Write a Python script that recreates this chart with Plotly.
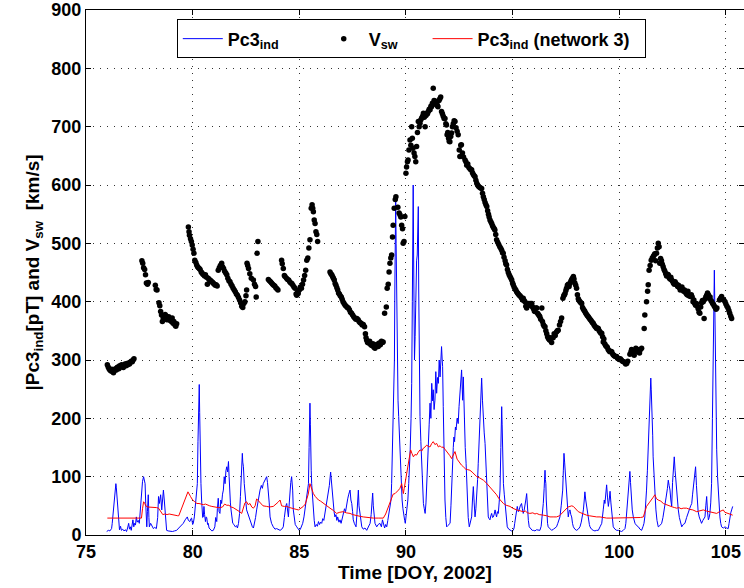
import plotly.graph_objects as go

# ---------------- data ----------------
vsw_points = [
(76.00,292),(76.04,288),(76.08,285),(76.12,283),(76.17,281),(76.21,284),(76.25,280),(76.29,278),(76.33,282),(76.38,285),
(76.42,283),(76.46,287),(76.50,288),(76.54,285),(76.58,290),(76.62,288),(76.67,292),(76.71,290),(76.75,287),(76.79,291),
(76.83,293),(76.88,290),(76.92,294),(76.96,292),(77.00,295),(77.04,293),(77.08,296),(77.12,298),(77.17,297),(77.21,300),(77.25,302),
(77.62,470),(77.66,466),(77.70,458),(77.75,455),(77.79,446),(77.83,432),(77.88,430),(77.92,433),
(78.25,428),(78.29,421),(78.33,420),(78.42,398),(78.46,393),(78.50,383),(78.54,377),(78.58,366),(78.62,372),(78.67,374),
(78.71,378),(78.75,376),(78.79,369),(78.83,372),(78.88,374),(78.92,368),(78.96,370),(79.00,366),(79.04,372),(79.08,363),
(79.12,366),(79.17,360),(79.21,358),(79.25,362),
(79.80,528),(79.83,520),(79.85,514),(79.90,508),(79.94,503),(79.98,497),(80.02,490),(80.06,483),(80.10,471),(80.15,467),
(80.19,463),(80.23,460),(80.27,458),(80.31,457),(80.35,455),(80.40,451),(80.44,449),(80.48,447),(80.52,446),(80.56,444),
(80.60,446),(80.65,442),(80.69,430),(80.73,440),(80.77,438),(80.81,437),(80.85,436),(80.90,434),(80.94,433),(80.98,431),
(81.02,430),(81.06,428),(81.10,429),(81.15,427),
(81.20,454),(81.25,458),(81.30,462),(81.36,466),(81.40,460),(81.45,457),(81.50,452),(81.55,449),(81.60,446),(81.65,440),
(81.70,436),(81.75,434),(81.80,430),(81.85,427),(81.90,423),(81.95,420),(82.00,417),(82.05,413),(82.10,411),(82.15,407),
(82.20,403),(82.25,398),(82.30,392),(82.35,390),(82.40,397),(82.45,400),(82.50,410),(82.53,420),(82.55,466),(82.58,462),
(82.62,457),(82.68,448),(82.75,440),(82.85,437),(82.90,430),(82.95,426),(82.98,408),(83.02,483),(83.06,503),
(83.55,438),(83.60,436),(83.65,434),(83.70,432),(83.75,430),(83.80,428),(83.85,427),(83.90,424),(83.95,422),(84.00,420),
(84.17,471),(84.20,465),(84.25,457),(84.30,445),(84.33,443),(84.40,440),(84.45,438),(84.50,437),(84.55,434),(84.60,432),
(84.65,431),(84.70,428),(84.75,425),(84.80,423),(84.85,413),(84.88,411),(84.92,416),(84.95,414),(85.00,420),(85.05,425),
(85.10,423),(85.15,430),(85.20,437),(85.25,445),(85.30,454),(85.35,471),(85.40,475),(85.45,492),(85.50,506),(85.56,560),
(85.60,566),(85.63,560),(85.66,554),(85.70,540),(85.74,534),(85.78,520),(85.82,515),(85.86,503),
(86.44,451),(86.48,448),(86.52,446),(86.56,443),(86.60,440),(86.64,437),(86.68,431),(86.72,428),(86.76,424),(86.80,420),
(86.84,415),(86.88,413),(86.92,410),(86.97,408),(87.01,404),(87.05,400),(87.10,397),(87.15,394),(87.20,392),(87.25,390),
(87.30,389),(87.35,386),(87.40,382),(87.45,380),(87.50,377),(87.55,374),(87.60,372),(87.65,370),(87.70,371),(87.76,369),
(87.80,366),(87.85,364),(87.90,363),(87.95,360),(88.00,361),(88.06,357),(88.10,345),(88.13,338),(88.16,334),(88.20,330),
(88.25,329),(88.30,332),(88.35,326),(88.40,325),(88.45,328),(88.50,322),(88.55,320),(88.60,324),(88.65,327),(88.70,323),
(88.75,329),(88.80,326),(88.85,332),(88.90,330),(88.93,331),
(89.00,380),(89.08,391),(89.12,423),(89.17,430),(89.21,451),(89.25,466),(89.29,475),(89.33,480),(89.37,511),(89.40,531),
(89.45,560),(89.50,575),(89.53,580),(89.62,562),(89.68,552),(89.72,549),(89.76,545),(89.80,531),(89.84,525),(89.87,500),
(89.91,503),(89.95,546),(90.00,620),(90.03,631),(90.07,640),(90.10,643),(90.14,660),(90.19,677),(90.23,668),(90.27,700),
(90.30,680),(90.33,663),(90.38,655),(90.42,649),(90.46,640),(90.50,666),(90.54,690),(90.58,709),(90.62,700),(90.66,706),
(90.70,712),(90.74,715),(90.78,718),(90.82,723),(90.86,716),(90.90,700),(90.94,719),(90.97,723),(91.01,722),(91.05,726),
(91.09,730),(91.13,729),(91.17,735),(91.20,734),(91.24,740),(91.28,766),(91.32,745),(91.36,744),(91.40,738),(91.44,740),
(91.48,736),(91.50,734),(91.55,745),(91.59,748),(91.63,751),(91.67,726),(91.71,722),(91.75,718),(91.79,714),(91.83,714),
(91.87,705),(91.90,703),(91.93,686),(91.96,690),(92.00,680),(92.03,675),(92.06,674),(92.10,683),(92.14,689),(92.18,700),
(92.22,705),(92.26,710),(92.30,709),(92.35,698),(92.40,692),(92.45,686),(92.50,660),(92.53,649),(92.57,668),(92.60,669),
(92.65,655),(92.70,648),(92.77,643),(92.81,640),(92.85,634),(92.90,636),(92.95,630),(93.00,628),(93.04,626),(93.08,626),
(93.12,621),(93.16,618),(93.20,616),(93.24,614),(93.28,608),(93.32,603),(93.36,600),(93.40,598),(93.45,596),(93.50,595),
(93.55,594),(93.59,586),(93.63,580),(93.67,575),(93.71,570),(93.75,566),(93.79,563),(93.83,556),(93.87,550),(93.90,545),
(93.94,540),(93.98,537),(94.02,534),(94.06,530),(94.10,527),(94.14,525),(94.17,523),(94.21,515),(94.25,506),(94.30,502),
(94.35,498),(94.40,494),(94.45,491),(94.49,488),(94.53,484),(94.56,483),(94.60,476),(94.65,470),(94.68,465),(94.72,463),
(94.76,455),(94.80,450),(94.84,446),(94.88,443),(94.92,440),(94.96,437),(95.00,432),(95.03,429),(95.07,425),(95.11,422),
(95.15,420),(95.19,417),(95.23,415),(95.27,413),(95.31,411),(95.35,410),(95.39,408),(95.43,406),(95.47,403),(95.50,406),
(95.54,402),(95.58,400),(95.62,392),(95.66,389),(95.70,395),(95.74,397),(95.78,394),(95.82,397),(95.86,393),(95.90,397),
(95.94,391),(95.98,388),(96.02,384),(96.05,383),(96.10,389),(96.13,389),(96.17,380),(96.21,378),(96.25,376),(96.28,374),
(96.32,370),(96.37,389),(96.40,366),(96.44,361),(96.48,358),(96.52,357),(96.56,350),(96.60,345),(96.64,340),(96.68,337),
(96.72,335),(96.75,334),(96.79,338),(96.83,330),(96.90,338),(96.95,345),(97.00,342),(97.06,348),(97.10,350),(97.14,351),
(97.20,360),(97.25,366),(97.30,372),(97.36,406),(97.40,410),(97.43,412),(97.46,414),(97.50,419),(97.53,423),(97.57,428),
(97.61,430),(97.65,426),(97.69,431),(97.73,435),(97.77,438),(97.81,440),(97.85,443),(97.88,439),(97.92,432),(97.96,428),
(98.00,423),(98.04,412),(98.08,405),(98.12,402),(98.16,400),(98.20,398),(98.24,397),(98.28,390),(98.32,387),(98.36,385),
(98.39,383),(98.43,380),(98.47,378),(98.51,376),(98.55,374),(98.59,372),(98.63,370),(98.67,368),(98.71,366),(98.75,364),
(98.78,363),(98.82,360),(98.86,358),(98.90,356),(98.94,354),(98.98,355),(99.02,354),(99.06,350),(99.10,348),(99.14,346),
(99.18,346),(99.22,340),(99.25,331),(99.28,336),(99.32,328),(99.36,325),(99.40,323),(99.44,322),(99.48,318),(99.52,316),
(99.56,314),(99.60,315),(99.65,314),(99.70,310),(99.74,308),(99.78,307),(99.82,306),(99.88,306),(99.92,303),(99.96,302),
(100.00,301),(100.05,302),(100.10,300),(100.15,298),(100.20,297),(100.25,296),(100.30,293),(100.35,294),(100.40,298),
(100.50,310),(100.55,314),(100.58,318),(100.62,312),(100.66,316),(100.70,308),(100.74,314),(100.78,320),(100.82,314),
(100.86,318),(100.90,316),(100.95,312),(101.00,318),(101.05,320),(101.17,354),(101.20,377),(101.28,400),(101.33,418),
(101.36,429),(101.40,454),(101.45,462),(101.50,471),(101.55,475),(101.60,478),(101.64,480),(101.67,482),(101.71,470),
(101.75,483),(101.79,492),(101.83,500),(101.87,494),(101.90,466),(101.94,474),(101.98,470),(102.02,464),(102.06,460),
(102.10,455),(102.14,452),(102.18,448),(102.22,444),(102.26,447),(102.30,446),(102.34,441),(102.38,439),(102.42,442),
(102.46,437),(102.50,435),(102.54,432),(102.58,430),(102.62,434),(102.66,431),(102.70,429),(102.74,426),(102.78,428),
(102.82,424),(102.86,420),(102.90,423),(102.94,425),(102.98,421),(103.02,418),(103.06,420),(103.10,416),(103.14,414),
(103.18,412),(103.22,418),(103.26,410),(103.30,411),(103.34,409),(103.38,412),(103.42,408),(103.46,400),(103.50,403),
(103.54,397),(103.58,394),(103.62,397),(103.66,392),(103.70,388),(103.74,382),(103.78,380),(103.82,391),(103.86,398),
(103.90,402),(103.94,400),(103.98,371),(104.02,404),(104.06,408),(104.10,411),(104.14,415),(104.18,412),(104.22,406),
(104.26,408),(104.30,402),(104.34,400),(104.38,397),(104.42,395),(104.46,392),(104.50,390),(104.54,387),(104.58,389),
(104.70,403),(104.75,406),(104.80,409),(104.85,404),(104.90,403),(104.96,400),(105.00,396),(105.05,392),(105.10,389),
(105.14,385),(105.18,380),(105.23,375),(105.27,371),
]

pc3_points = [
(75.97,6),(76.05,8),(76.12,7),(76.20,11),(76.23,20),(76.27,35),(76.30,45),(76.34,70),(76.38,80),(76.40,88),(76.42,82),
(76.46,60),(76.50,43),(76.53,12),(76.57,9),(76.62,15),(76.66,8),(76.72,10),(76.78,7),(76.85,9),(76.90,6),(76.95,12),
(77.00,20),(77.04,10),(77.08,14),(77.12,8),(77.16,18),(77.20,26),(77.24,14),(77.28,20),(77.32,17),(77.36,31),(77.40,22),
(77.45,25),(77.50,20),(77.53,37),(77.57,60),(77.60,77),(77.65,92),(77.70,100),(77.74,95),(77.77,88),(77.80,54),(77.83,30),
(77.85,14),(77.88,40),(77.92,69),(77.95,30),(77.97,14),(78.03,20),(78.10,15),(78.16,11),(78.22,13),(78.30,11),(78.36,30),
(78.40,66),(78.44,54),(78.48,65),(78.50,69),(78.55,43),(78.60,70),(78.63,77),(78.67,60),(78.70,45),(78.73,31),(78.78,8),
(78.85,7),(78.94,6),(79.05,6),(79.15,7),(79.25,8),(79.35,12),(79.45,16),(79.56,20),(79.65,26),(79.75,31),(79.80,25),
(79.87,23),(79.92,28),(79.95,29),(80.00,18),(80.03,20),(80.08,31),(80.12,45),(80.14,54),(80.18,70),(80.22,88),(80.25,160),
(80.27,214),(80.29,200),(80.31,258),(80.33,210),(80.34,174),(80.37,120),(80.39,88),(80.42,60),(80.44,37),(80.47,30),
(80.50,31),(80.53,49),(80.56,35),(80.60,23),(80.63,31),(80.66,30),(80.70,18),(80.73,20),(80.77,12),(80.80,11),(80.85,9),
(80.90,7),(80.97,8),(81.00,12),(81.04,14),(81.08,30),(81.13,23),(81.16,45),(81.20,63),(81.24,40),(81.28,37),(81.32,60),
(81.36,54),(81.40,70),(81.44,77),(81.48,100),(81.52,88),(81.56,110),(81.60,117),(81.64,108),(81.68,126),(81.71,100),
(81.73,77),(81.77,55),(81.80,43),(81.84,30),(81.88,20),(81.94,18),(82.00,14),(82.06,16),(82.10,12),(82.15,20),(82.20,37),
(82.24,66),(82.27,88),(82.30,110),(82.33,140),(82.35,125),(82.38,117),(82.42,88),(82.45,66),(82.50,54),(82.53,43),
(82.58,37),(82.63,31),(82.69,25),(82.75,18),(82.80,14),(82.85,12),(82.90,20),(82.95,30),(83.00,43),(83.05,55),(83.10,65),
(83.16,77),(83.22,85),(83.27,80),(83.31,88),(83.36,92),(83.42,96),(83.47,100),(83.51,90),(83.55,77),(83.59,55),(83.63,31),
(83.70,20),(83.78,14),(83.86,10),(83.94,11),(84.02,9),(84.10,8),(84.18,10),(84.25,14),(84.30,30),(84.33,43),(84.37,50),
(84.41,54),(84.45,42),(84.49,31),(84.53,55),(84.56,77),(84.60,90),(84.64,100),(84.67,85),(84.69,77),(84.72,43),(84.76,30),
(84.81,18),(84.88,14),(84.94,10),(85.00,8),(85.05,10),(85.11,14),(85.16,20),(85.22,31),(85.28,50),(85.35,71),(85.40,80),
(85.43,88),(85.46,150),(85.48,200),(85.50,226),(85.52,190),(85.53,146),(85.56,110),(85.58,88),(85.62,60),(85.66,37),
(85.70,25),(85.74,14),(85.80,18),(85.85,15),(85.90,23),(85.95,18),(86.00,22),(86.05,20),(86.10,28),(86.15,25),(86.20,37),
(86.25,45),(86.30,55),(86.36,71),(86.41,85),(86.47,108),(86.50,94),(86.52,77),(86.56,60),(86.60,49),(86.63,40),(86.67,31),
(86.72,35),(86.76,25),(86.80,31),(86.86,22),(86.91,26),(86.96,20),(87.01,30),(87.07,37),(87.12,45),(87.17,40),(87.22,54),
(87.27,62),(87.32,70),(87.38,77),(87.42,60),(87.46,54),(87.50,40),(87.53,26),(87.58,20),(87.62,16),(87.66,14),(87.70,35),
(87.74,60),(87.77,77),(87.80,50),(87.85,31),(87.89,20),(87.93,14),(88.00,10),(88.08,12),(88.16,8),(88.24,15),(88.32,20),
(88.37,35),(88.41,55),(88.44,72),(88.47,50),(88.50,31),(88.55,20),(88.63,14),(88.70,18),(88.78,20),(88.85,14),(88.90,26),
(88.94,20),(89.00,12),(89.05,18),(89.10,14),(89.15,25),(89.20,37),(89.25,45),(89.30,60),(89.33,88),(89.37,140),(89.40,203),
(89.43,260),(89.46,300),(89.48,420),(89.50,488),(89.52,580),(89.54,500),(89.56,420),(89.58,346),(89.60,280),(89.63,230),
(89.66,203),(89.70,160),(89.74,117),(89.78,90),(89.82,60),(89.86,45),(89.90,31),(89.94,25),(89.97,20),(90.00,30),(90.05,43),
(90.09,60),(90.13,88),(90.17,115),(90.20,146),(90.24,200),(90.27,260),(90.30,400),(90.32,520),(90.34,600),(90.36,480),
(90.38,380),(90.40,300),(90.43,340),(90.46,420),(90.50,470),(90.53,480),(90.56,520),(90.58,563),(90.60,420),(90.62,300),
(90.64,250),(90.66,203),(90.70,160),(90.74,117),(90.78,80),(90.82,54),(90.86,45),(90.90,37),(90.94,55),(90.97,77),
(91.01,110),(91.05,146),(91.09,190),(91.13,226),(91.17,200),(91.21,260),(91.25,230),(91.28,249),(91.32,215),(91.36,231),
(91.40,280),(91.44,243),(91.48,270),(91.52,260),(91.56,300),(91.60,271),(91.64,310),(91.67,323),(91.70,300),(91.72,289),
(91.75,220),(91.78,146),(91.81,100),(91.83,60),(91.87,30),(91.91,14),(91.96,16),(92.02,18),(92.07,20),(92.11,50),(92.14,88),
(92.18,120),(92.22,150),(92.25,168),(92.28,160),(92.32,185),(92.35,180),(92.40,200),(92.45,191),(92.49,220),(92.53,249),
(92.57,270),(92.61,283),(92.64,250),(92.66,231),(92.69,271),(92.72,220),(92.74,174),(92.78,150),(92.82,123),(92.85,90),
(92.88,54),(92.92,30),(92.97,14),(93.02,20),(93.08,31),(93.12,60),(93.16,83),(93.20,55),(93.24,31),(93.28,45),(93.32,66),
(93.36,95),(93.39,123),(93.43,160),(93.47,203),(93.51,240),(93.55,269),(93.59,230),(93.63,191),(93.67,175),(93.71,157),
(93.75,120),(93.79,88),(93.83,55),(93.86,31),(93.90,28),(93.94,26),(93.98,33),(94.02,37),(94.06,30),(94.10,31),(94.14,36),
(94.18,43),(94.22,35),(94.25,31),(94.29,40),(94.33,37),(94.37,55),(94.41,77),(94.45,150),(94.49,220),(94.51,190),(94.53,146),
(94.55,110),(94.57,88),(94.61,70),(94.65,54),(94.70,30),(94.75,14),(94.82,10),(94.88,8),(94.95,7),(95.03,8),(95.07,12),
(95.10,20),(95.15,35),(95.19,45),(95.22,49),(95.27,40),(95.31,43),(95.36,50),(95.42,54),(95.46,45),(95.50,37),(95.54,42),
(95.58,49),(95.62,60),(95.66,71),(95.68,55),(95.70,37),(95.74,25),(95.78,14),(95.85,10),(95.92,8),(95.97,8),(96.05,7),
(96.12,9),(96.20,8),(96.28,8),(96.34,15),(96.38,30),(96.41,40),(96.44,54),(96.48,80),(96.52,111),(96.54,95),(96.56,88),
(96.58,60),(96.60,37),(96.64,20),(96.67,14),(96.75,10),(96.83,8),(96.92,10),(97.00,12),(97.06,14),(97.12,20),(97.18,25),
(97.22,31),(97.28,50),(97.32,65),(97.35,77),(97.38,110),(97.41,140),(97.44,125),(97.46,111),(97.50,85),(97.53,66),
(97.57,45),(97.61,31),(97.65,40),(97.69,43),(97.73,35),(97.77,31),(97.81,20),(97.85,14),(97.92,10),(98.00,8),(98.08,10),
(98.16,14),(98.22,22),(98.28,35),(98.32,43),(98.36,60),(98.39,74),(98.43,60),(98.47,49),(98.51,35),(98.55,26),(98.60,18),
(98.63,14),(98.70,10),(98.78,8),(98.86,7),(98.94,8),(99.02,8),(99.10,14),(99.18,20),(99.25,43),(99.30,60),(99.33,54),
(99.37,70),(99.41,86),(99.45,65),(99.49,49),(99.53,60),(99.57,75),(99.61,55),(99.65,37),(99.68,25),(99.72,14),(99.80,10),
(99.88,8),(99.96,8),(100.04,7),(100.11,6),(100.19,8),(100.27,11),(100.31,20),(100.35,37),(100.39,55),(100.43,77),(100.47,95),
(100.50,109),(100.53,90),(100.55,77),(100.58,60),(100.61,43),(100.66,31),(100.70,25),(100.74,20),(100.82,16),(100.90,14),
(100.97,10),(101.05,8),(101.12,15),(101.16,20),(101.20,31),(101.24,50),(101.28,77),(101.32,110),(101.36,146),(101.40,190),
(101.44,231),(101.46,260),(101.48,269),(101.50,250),(101.52,230),(101.55,214),(101.57,170),(101.59,134),(101.62,110),
(101.64,88),(101.68,60),(101.72,43),(101.77,25),(101.83,14),(101.90,16),(101.99,20),(102.05,30),(102.10,40),(102.14,49),
(102.20,65),(102.26,80),(102.30,94),(102.34,85),(102.38,77),(102.42,60),(102.46,49),(102.50,90),(102.53,117),(102.56,130),
(102.58,134),(102.62,110),(102.66,88),(102.70,65),(102.73,50),(102.77,43),(102.82,30),(102.87,20),(102.93,14),(103.00,18),
(103.08,20),(103.16,30),(103.24,37),(103.30,45),(103.35,50),(103.40,54),(103.44,70),(103.48,85),(103.52,94),(103.55,110),
(103.58,117),(103.62,85),(103.66,54),(103.70,40),(103.75,31),(103.80,25),(103.86,20),(103.92,25),(103.97,28),(104.02,31),
(104.06,50),(104.10,66),(104.14,40),(104.18,26),(104.22,30),(104.25,37),(104.29,55),(104.33,88),(104.37,200),(104.41,317),
(104.44,420),(104.46,454),(104.48,400),(104.50,317),(104.53,220),(104.57,146),(104.61,100),(104.65,66),(104.69,45),
(104.72,31),(104.76,20),(104.80,14),(104.88,12),(104.96,14),(105.04,12),(105.11,11),(105.15,20),(105.19,31),(105.23,38),
(105.27,43),(105.32,49),
]

net3_points = [
(76.00,29),(76.5,29),(77.0,29),(77.5,29),(77.6,29),(77.65,45),(77.7,57),(77.75,55),(77.8,50),(77.9,48),(78.0,48),(78.1,47),
(78.2,48),(78.3,47),(78.4,46),(78.5,40),(78.6,35),(78.7,36),(78.8,35),(78.9,36),(79.0,35),(79.1,35),(79.2,34),(79.3,33),
(79.35,33),(79.5,48),(79.65,62),(79.78,74),(79.9,66),(80.0,60),(80.1,57),(80.2,54),(80.3,54),(80.4,53),(80.5,52),(80.6,53),
(80.7,51),(80.8,50),(80.9,49),(81.0,48),(81.1,48),(81.2,47),(81.3,47),(81.4,48),(81.5,53),(81.6,51),(81.7,51),(81.8,48),
(81.9,47),(82.0,45),(82.1,42),(82.2,40),(82.3,37),(82.38,47),(82.45,55),(82.53,57),(82.6,52),(82.69,54),(82.77,48),
(82.85,46),(82.93,50),(83.0,62),(83.05,60),(83.16,54),(83.3,50),(83.47,49),(83.6,48),(83.78,49),(83.9,52),(84.0,56),
(84.1,60),(84.17,50),(84.3,49),(84.41,49),(84.55,47),(84.72,46),(84.85,44),(84.96,43),(85.1,46),(85.19,49),(85.28,53),
(85.35,60),(85.42,70),(85.5,88),(85.56,80),(85.66,71),(85.75,66),(85.9,60),(86.0,58),(86.13,54),(86.3,50),(86.44,46),
(86.6,42),(86.75,37),(86.9,39),(87.07,40),(87.2,38),(87.38,37),(87.5,35),(87.69,34),(87.85,32),(88.0,31),(88.2,30),
(88.47,29),(88.7,29),(88.94,29),(89.05,36),(89.18,49),(89.25,58),(89.33,66),(89.4,70),(89.49,71),(89.55,74),(89.65,77),
(89.72,80),(89.8,88),(89.84,80),(89.88,71),(89.92,80),(89.96,88),(90.02,100),(90.07,112),(90.11,123),(90.16,130),
(90.22,146),(90.28,140),(90.35,134),(90.42,138),(90.5,137),(90.58,142),(90.66,146),(90.74,144),(90.82,149),(90.9,151),
(90.97,154),(91.05,152),(91.13,151),(91.21,157),(91.28,160),(91.36,155),(91.44,157),(91.52,151),(91.6,153),(91.68,150),
(91.75,151),(91.85,146),(91.99,140),(92.06,136),(92.14,131),(92.22,137),(92.3,143),(92.4,130),(92.53,123),(92.6,120),
(92.69,117),(92.8,113),(92.9,112),(93.0,111),(93.1,108),(93.2,104),(93.32,100),(93.45,98),(93.55,96),(93.63,94),(93.75,90),
(93.85,86),(93.94,83),(94.05,78),(94.15,73),(94.25,69),(94.35,63),(94.45,58),(94.57,54),(94.7,51),(94.8,50),(94.88,49),
(95.0,46),(95.1,44),(95.19,43),(95.3,42),(95.4,41),(95.5,40),(95.6,41),(95.7,38),(95.81,37),(95.95,38),(96.05,36),
(96.13,37),(96.25,35),(96.35,35),(96.44,34),(96.6,33),(96.75,31),(96.9,31),(97.06,31),(97.2,33),(97.3,37),(97.38,40),
(97.5,44),(97.6,48),(97.69,49),(97.77,50),(97.85,49),(97.95,45),(98.08,40),(98.2,38),(98.35,35),(98.47,34),(98.6,33),
(98.75,32),(98.94,31),(99.1,31),(99.25,30),(99.41,29),(99.6,29),(99.88,29),(100.2,29),(100.5,29),(100.8,29),(101.0,30),
(101.13,31),(101.2,38),(101.28,49),(101.4,55),(101.52,60),(101.6,65),(101.67,69),(101.75,62),(101.83,60),(101.95,58),
(102.07,54),(102.2,52),(102.3,50),(102.38,49),(102.5,48),(102.6,47),(102.69,46),(102.8,47),(102.9,45),(103.0,46),
(103.16,46),(103.3,44),(103.45,43),(103.63,40),(103.78,42),(103.94,43),(104.1,41),(104.25,40),(104.4,38),(104.57,37),
(104.7,40),(104.8,42),(104.88,43),(104.95,39),(105.11,37),(105.2,36),(105.32,34),
]

x_ticks = [75, 80, 85, 90, 95, 100, 105]
y_ticks = [0, 100, 200, 300, 400, 500, 600, 700, 800, 900]

vsw_day, vsw_val = zip(*vsw_points)
pc3_day, pc3_val = zip(*pc3_points)
net3_day, net3_val = zip(*net3_points)

FONT = "Liberation Sans, Arial, sans-serif"
NB = "\u00a0"

fig = go.Figure()
fig.add_trace(go.Scatter(x=pc3_day, y=pc3_val, mode="lines",
                         line=dict(color="#0000ff", width=1),
                         name="Pc3<sub>ind</sub>" + NB * 7))
fig.add_trace(go.Scatter(x=vsw_day, y=vsw_val, mode="markers",
                         marker=dict(color="black", size=5.5),
                         name="V<sub>sw</sub>" + NB * 5))
fig.add_trace(go.Scatter(x=net3_day, y=net3_val, mode="lines",
                         line=dict(color="#ff0000", width=1),
                         name="Pc3<sub>ind</sub> (network 3)" + NB * 2))

axis_common = dict(
    showline=True, linecolor="black", linewidth=1,
    ticks="inside", ticklen=5, tickcolor="black", mirror="ticks",
    showgrid=True, gridcolor="#333333", gridwidth=1, griddash="1px,6px",
    zeroline=False,
    tickfont=dict(family=FONT, size=18, color="black", weight="bold"),
)

fig.update_layout(
    width=744, height=588,
    margin=dict(l=86, r=0, t=10, b=53),
    paper_bgcolor="white", plot_bgcolor="white",
    font=dict(family=FONT, color="black", weight="bold"),
    showlegend=True,
    legend=dict(orientation="h", x=0.138, xanchor="left", y=0.982, yanchor="top",
                bgcolor="white", bordercolor="black", borderwidth=1,
                font=dict(family=FONT, size=18, color="black", weight="bold"),
                itemwidth=40, tracegroupgap=0),
    xaxis=dict(axis_common, range=[75, 105.85], tickvals=x_ticks,
               title=dict(text="Time [DOY, 2002]", standoff=2,
                          font=dict(family=FONT, size=19, color="black", weight="bold"))),
    yaxis=dict(axis_common, range=[0, 900], tickvals=y_ticks,
               title=dict(text="|Pc3<sub>ind</sub>[pT] and V<sub>sw</sub>  [km/s]", standoff=6,
                          font=dict(family=FONT, size=19, color="black", weight="bold"))),
)

fig.write_html("out.html")
